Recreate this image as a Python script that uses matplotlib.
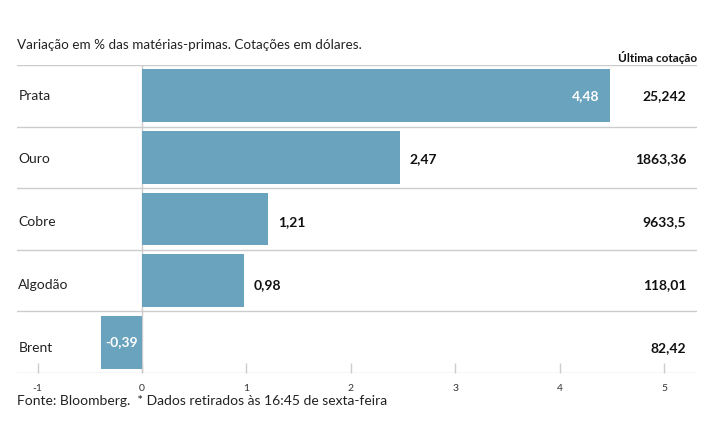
import matplotlib
matplotlib.use("Agg")
import matplotlib.pyplot as plt

plt.rcParams['font.family'] = ['Lato', 'DejaVu Sans']

categories = ['Prata', 'Ouro', 'Cobre', 'Algodão', 'Brent']
variation = [4.48, 2.47, 1.21, 0.98, -0.39]
variation_labels = ['4,48', '2,47', '1,21', '0,98', '-0,39']
last_quote = ['25,242', '1863,36', '9633,5', '118,01', '82,42']
xticks = [-1, 0, 1, 2, 3, 4, 5]

bar_color = '#6aa3be'
grid_color = '#cccccc'

fig = plt.figure(figsize=(7.15, 4.45), dpi=100)
ax = fig.add_axes([17 / 715, 1 - 373 / 445, 680 / 715, 308 / 445])

ypos = list(range(len(categories)))
ax.barh(ypos, variation, height=0.86, color=bar_color, zorder=3)
ax.set_xlim(-1.197, 5.316)
ax.set_ylim(len(categories) - 0.5, -0.5)

for spine in ax.spines.values():
    spine.set_visible(False)

for i in range(len(categories) + 1):
    ax.axhline(i - 0.5, color=grid_color, lw=1, zorder=1)
ax.axvline(0, color=grid_color, lw=1, zorder=1)

ax.set_yticks([])
ax.set_xticks(xticks)
ax.set_xticklabels([str(t) for t in xticks])
ax.tick_params(axis='x', direction='in', length=7, width=1, color=grid_color,
               pad=8, labelsize=7.5, labelcolor='#333333')

for i, (name, v, lab, q) in enumerate(zip(categories, variation, variation_labels, last_quote)):
    # row texts sit a little lower as we go down
    yt = i + 0.025 * i
    ax.text(0.002, yt, name, transform=ax.get_yaxis_transform(), ha='left', va='center',
            fontsize=10, color='#222222')
    if v > 4:
        ax.text(v - 0.1, i, lab, ha='right', va='center', fontsize=10, fontweight='bold',
                color='white', zorder=4)
    elif v < 0:
        ax.text(v / 2, i, lab, ha='center', va='center', fontsize=10, fontweight='bold',
                color='white', zorder=4)
    else:
        ax.text(v + 0.09, yt, lab, ha='left', va='center', fontsize=10, fontweight='bold',
                color='#111111', zorder=4)
    ax.text(0.984, yt, q, transform=ax.get_yaxis_transform(), ha='right', va='center',
            fontsize=10, fontweight='bold', color='#111111')

fig.text(17 / 715, 1 - 45 / 445, 'Variação em % das matérias-primas. Cotações em dólares.',
         ha='left', va='center', fontsize=9.7, color='#222222')
fig.text(697 / 715, 1 - 57 / 445, 'Última cotação', ha='right', va='center',
         fontsize=8.5, fontweight='bold', color='#111111')
fig.text(17 / 715, 1 - 401 / 445, 'Fonte: Bloomberg.  * Dados retirados às 16:45 de sexta-feira',
         ha='left', va='center', fontsize=10, color='#222222')

fig.savefig('out.png', dpi=100)
